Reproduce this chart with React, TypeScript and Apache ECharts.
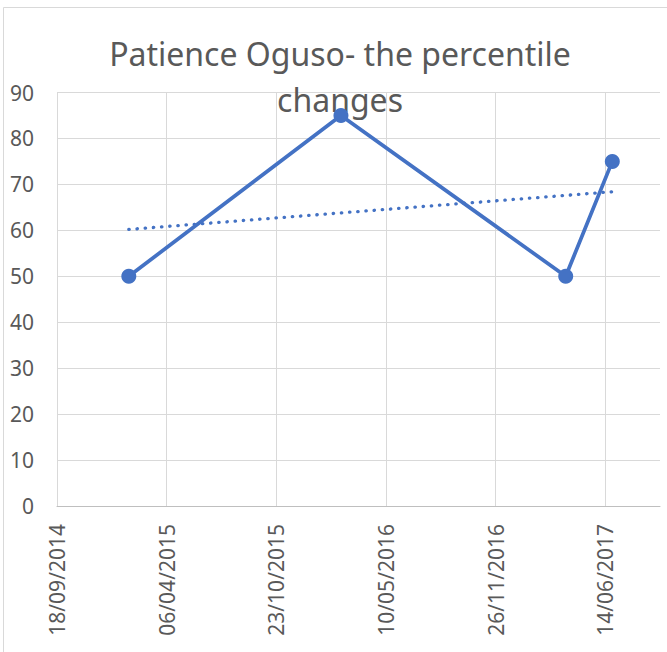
import React, { useEffect, useRef } from "react";
import * as echarts from "echarts";

const titleLines = ["Patience Oguso- the percentile", "changes"];
const axisStartDate = "2014-09-18";
const axisEndDays = 1100;
const axisIntervalDays = 200;
const pointDates = ["2015-01-27", "2016-02-18", "2017-04-03", "2017-06-27"];
const pointValues = [50, 85, 50, 75];
const trendDates = ["2015-01-27", "2017-06-27"];
const trendValues = [60.2, 68.4];
const yTicks = { min: 0, max: 90, interval: 10 };

const DAY = 86400000;
const baseMs = Date.parse(axisStartDate + "T00:00:00Z");
const dayOf = (s: string) => Math.round((Date.parse(s + "T00:00:00Z") - baseMs) / DAY);
const fmt = (d: number) => {
  const dt = new Date(baseMs + d * DAY);
  const dd = String(dt.getUTCDate()).padStart(2, "0");
  const mm = String(dt.getUTCMonth() + 1).padStart(2, "0");
  return `${dd}/${mm}/${dt.getUTCFullYear()}`;
};

export default function App() {
  const ref = useRef<HTMLDivElement>(null);
  useEffect(() => {
    if (!ref.current) return;
    const chart = echarts.init(ref.current, undefined, { renderer: "svg" });
    const font = "'Noto Sans', sans-serif";
    const blue = "#4472C4";
    chart.setOption({
      animation: false,
      backgroundColor: "#ffffff",
      graphic: [
        {
          type: "rect",
          z: 0,
          shape: { x: 3.5, y: 7.5, width: 700, height: 700 },
          style: { fill: "none", stroke: "#d9d9d9", lineWidth: 1 },
        },
        {
          type: "text",
          z: 1,
          x: 340,
          y: 53,
          style: {
            text: titleLines[0],
            fill: "#595959",
            font: `32px ${font}`,
            textAlign: "center",
            textVerticalAlign: "middle",
          },
        },
        {
          type: "text",
          z: 1,
          x: 340,
          y: 99,
          style: {
            text: titleLines[1],
            fill: "#595959",
            font: `32px ${font}`,
            textAlign: "center",
            textVerticalAlign: "middle",
          },
        },
      ],
      grid: { left: 57, top: 92.5, right: 7, bottom: 146, containLabel: false },
      xAxis: {
        type: "value",
        min: 0,
        max: axisEndDays,
        interval: axisIntervalDays,
        axisLine: { show: true, lineStyle: { color: "#bfbfbf", width: 1 } },
        axisTick: { show: false },
        splitLine: { show: true, showMaxLine: false, lineStyle: { color: "#d9d9d9", width: 1 } },
        axisLabel: {
          rotate: 90,
          margin: 18,
          color: "#595959",
          fontSize: 21,
          fontFamily: font,
          showMaxLabel: false,
          formatter: (v: number) => fmt(v),
        },
      },
      yAxis: {
        type: "value",
        min: yTicks.min,
        max: yTicks.max,
        interval: yTicks.interval,
        axisLine: { show: false },
        axisTick: { show: false },
        splitLine: { show: true, lineStyle: { color: "#d9d9d9", width: 1 } },
        axisLabel: { color: "#595959", fontSize: 21, fontFamily: font, margin: 23 },
      },
      series: [
        {
          type: "line",
          z: 3,
          data: pointDates.map((d, i) => [dayOf(d), pointValues[i]]),
          symbol: "circle",
          symbolSize: 15,
          itemStyle: { color: blue },
          lineStyle: { color: blue, width: 3.75 },
        },
        {
          type: "line",
          z: 2,
          data: trendDates.map((d, i) => [dayOf(d), trendValues[i]]),
          symbol: "none",
          lineStyle: { color: blue, width: 3.3, type: [0.4, 7.8], cap: "round" },
        },
      ],
    });
    return () => chart.dispose();
  }, []);
  return (
    <div
      ref={ref}
      style={{ position: "fixed", left: 0, top: 0, width: 667, height: 652 }}
    />
  );
}
